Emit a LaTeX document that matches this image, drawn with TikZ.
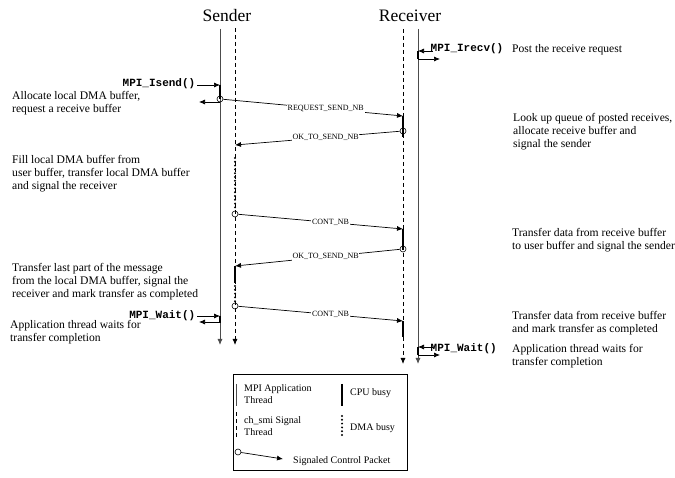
\documentclass[tikz,border=0pt]{standalone}
\usepackage{fontspec}
\setmainfont{Liberation Serif}
\setmonofont{Liberation Mono}
\usetikzlibrary{arrows.meta}

\begin{document}
\begin{tikzpicture}[x=1pt,y=-1pt,
  tip/.style={-{Latex[length=6pt,width=5pt]}},
  life/.style={line width=0.9pt, draw=black!70},
  thread/.style={line width=0.8pt, dash pattern=on 4pt off 3pt},
  busy/.style={line width=2.4pt},
  dma/.style={line width=2.2pt, dash pattern=on 0pt off 3.8pt, line cap=round},
  msg/.style={line width=0.7pt, tip},
  pkt/.style={circle, draw, line width=0.6pt, minimum size=6pt, inner sep=0pt},
  lbl/.style={font=\fontsize{8}{9}\selectfont, fill=white, inner sep=0.8pt},
  note/.style={font=\fontsize{11.6}{13}\selectfont, align=left, inner sep=0pt, anchor=north west},
  call/.style={font=\fontsize{11}{13}\selectfont\ttfamily\bfseries, inner sep=1.5pt},
  heading/.style={font=\fontsize{17.5}{20}\selectfont},
  key/.style={font=\fontsize{10}{12}\selectfont, align=left, inner sep=0pt, anchor=north west},
]
\useasboundingbox (0,0) rectangle (675,478);

% titles
\node[heading] (snd) at (227,16) {Sender};
\node[heading] (rcv) at (410,16) {Receiver};

% life lines: application threads (solid) and signal threads (dashed)
\coordinate (sA0) at (220,29); \coordinate (sA1) at (220,345);
\coordinate (sB0) at (235,28); \coordinate (sB1) at (235,345);
\coordinate (rB0) at (403,29); \coordinate (rB1) at (403,364);
\coordinate (rA0) at (418,29); \coordinate (rA1) at (418,364);
\draw[life, tip] (sA0) -- (sA1);
\draw[thread, tip] (sB0) -- (sB1);
\draw[thread, tip] (rB0) -- (rB1);
\draw[life, tip] (rA0) -- (rA1);

% CPU busy periods
\draw[busy] (220,85) -- (220,99);
\draw[busy] (220,316) -- (220,323);
\draw[busy] (403,116) -- (403,137);
\draw[busy] (403,229) -- (403,250);
\draw[busy] (403,321) -- (403,337);
\draw[busy] (235,266) -- (235,283);
\draw[busy] (418,51) -- (418,59);
\draw[busy] (418,347) -- (418,355);

% DMA busy periods
\draw[dma] (235,158) -- (235,210);
\draw[dma] (235,286) -- (235,303);

% control packets
\node[pkt] (p1) at (220,99) {};
\node[pkt] (p2) at (403,131) {};
\node[pkt] (p3) at (235,214) {};
\node[pkt] (p4) at (403,249) {};
\node[pkt] (p5) at (235,306) {};
\coordinate (m1) at (403,116);
\coordinate (m2) at (235,145);
\coordinate (m3) at (403,229);
\coordinate (m4) at (235,266);
\coordinate (m5) at (403,321);
\draw[msg] (p1) -- node[lbl, pos=0.57] {REQUEST\_SEND\_NB} (m1);
\draw[msg] (p2) -- node[lbl, pos=0.45] {OK\_TO\_SEND\_NB} (m2);
\draw[msg] (p3) -- node[lbl, pos=0.56] {CONT\_NB} (m3);
\draw[msg] (p4) -- node[lbl, pos=0.45] {OK\_TO\_SEND\_NB} (m4);
\draw[msg] (p5) -- node[lbl, pos=0.56] {CONT\_NB} (m5);

% MPI calls on the sender
\node[call, anchor=east] (isend) at (197,84) {MPI\_Isend()};
\coordinate (isIn) at (220,85);
\coordinate (isOut) at (220,102);
\coordinate (isBack) at (199,102);
\draw[msg] (isend.east |- isIn) -- (isIn);
\draw[msg] (isOut) -- (isBack);

\node[call, anchor=east] (swait) at (197,316) {MPI\_Wait()};
\coordinate (swIn) at (220,316);
\coordinate (swOut) at (220,322);
\coordinate (swBack) at (199,322);
\draw[msg] (swait.east |- swIn) -- (swIn);
\draw[msg] (swOut) -- (swBack);

% MPI calls on the receiver
\node[call, anchor=west] (irecv) at (429,49) {MPI\_Irecv()};
\coordinate (irIn) at (418,51);
\coordinate (irOut) at (418,59);
\coordinate (irBack) at (440,59);
\draw[msg] (irecv.west |- irIn) ++(4,0) -- (irIn);
\draw[msg] (irOut) -- (irBack);

\node[call, anchor=west] (rwait) at (429,349) {MPI\_Wait()};
\coordinate (rwIn) at (418,347);
\coordinate (rwOut) at (418,355);
\coordinate (rwBack) at (440,355);
\draw[msg] (rwait.west |- rwIn) ++(4,0) -- (rwIn);
\draw[msg] (rwOut) -- (rwBack);

% sender notes
\node[note] (n1) at (12,91) {Allocate local DMA buffer,\\request a receive buffer};
\node[note] (n2) at (12,155) {Fill local DMA buffer from\\user buffer, transfer local DMA buffer\\and signal the receiver};
\node[note] (n3) at (12,263) {Transfer last part of the message\\from the local DMA buffer, signal the\\receiver and mark transfer as completed};
\node[note] (n4) at (10,320) {Application thread waits for\\transfer completion};

% receiver notes
\node[note] (n5) at (512,44) {Post the receive request};
\node[note] (n6) at (513,113) {Look up queue of posted receives,\\allocate receive buffer and\\signal the sender};
\node[note] (n7) at (512,228) {Transfer data from receive buffer\\to user buffer and signal the sender};
\node[note] (n8) at (512,311) {Transfer data from receive buffer\\and mark transfer as completed};
\node[note] (n9) at (512,344) {Application thread waits for\\transfer completion};

% legend
\node[draw, line width=0.7pt, minimum width=174pt, minimum height=96pt, anchor=north west, inner sep=0pt] (legend) at (233,374) {};
\draw[life] (236,384) -- (236,406);
\draw[thread] (236,412) -- (236,438);
\draw[busy] (342,384) -- (342,406);
\draw[dma] (342,416) -- (342,438);
\node[key] (k1) at (244,384) {MPI Application\\Thread};
\node[key] (k2) at (350,388) {CPU busy};
\node[key] (k3) at (244,416) {ch\_smi Signal\\Thread};
\node[key] (k4) at (350,423) {DMA busy};
\node[pkt] (kp) at (238,452) {};
\coordinate (kpEnd) at (283,459);
\draw[msg] (kp) -- (kpEnd);
\node[key, anchor=west] (k5) at (293,461) {Signaled Control Packet};
\end{tikzpicture}
\end{document}
